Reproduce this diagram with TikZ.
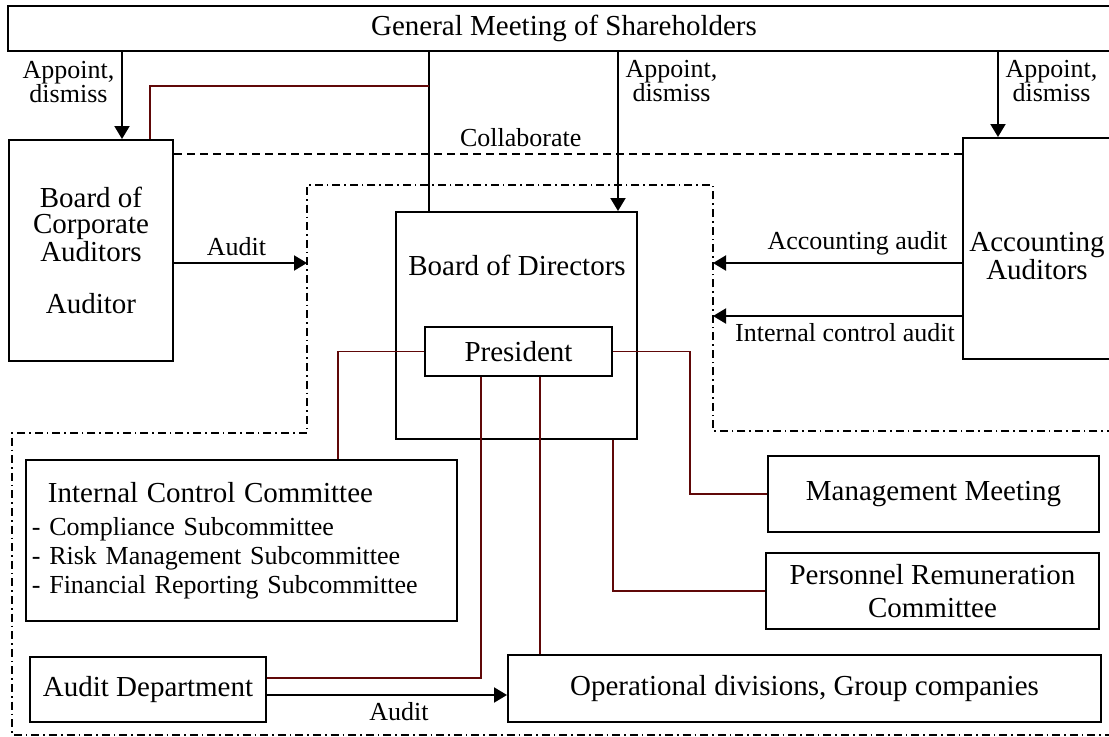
\documentclass[tikz,border=0pt]{standalone}
\usepackage{fontspec}
\setmainfont{Liberation Serif}
\usetikzlibrary{arrows.meta}
\definecolor{linkred}{RGB}{96,8,8}
\newcommand{\boxfont}{\fontsize{14.5}{13}\selectfont}
\newcommand{\tagfont}{\fontsize{13}{12}\selectfont}

\begin{document}
\begin{tikzpicture}[x=0.5pt,y=-0.5pt,
    box/.style={draw=black,line width=1pt,inner sep=2pt,align=center,font=\boxfont},
    tag/.style={font=\tagfont,align=center},
    link/.style={draw=linkred,line width=0.65pt},
    collab/.style={line width=1pt,dash pattern=on 4pt off 2.5pt},
    border/.style={line width=0.6pt,dash pattern=on 4pt off 2pt on 0.8pt off 2pt}]
  \useasboundingbox (0,0) rectangle (1109,736);

    \begin{scope}
      \node[box,minimum width=556pt,minimum height=22.5pt] (gms) at (564,28.5)
           {General Meeting of Shareholders};
      \node[box,minimum width=82pt,minimum height=110.5pt] (bca) at (91,250.5)
           {Board of\\Corporate\\Auditors\\[13pt]Auditor};
      \node[box,minimum width=74pt,minimum height=110.5pt] (acc) at (1037,248.5) {};
      \node[font=\boxfont,align=center] (acctext) at (1037,256) {Accounting\\Auditors};
      \node[box,minimum width=120.5pt,minimum height=113.5pt] (bod) at (516.5,325.5) {};
      \node[font=\boxfont] (bodtext) at (517,265) {Board of Directors};
      \node[box,minimum width=93.5pt,minimum height=24.5pt] (pres) at (518.5,351.5) {President};

      \node[box,minimum width=215.5pt,minimum height=80.5pt,inner xsep=3pt,
            text width=209.5pt,align=left,font=\fontsize{13}{14.5}\selectfont]
           (icc) at (241.5,540.5)
           {\hspace*{8pt}{\boxfont Internal Control Committee}\\[2pt]
            - Compliance Subcommittee\\
            - Risk Management Subcommittee\\
            - Financial Reporting Subcommittee};
      \node[box,minimum width=165.5pt,minimum height=38pt] (mm) at (933.5,494) {Management Meeting};
      \node[box,minimum width=166.5pt,minimum height=38pt,font=\fontsize{14.5}{16.5}\selectfont]
           (prc) at (932.5,591) {Personnel Remuneration\\Committee};
      \node[box,minimum width=118pt,minimum height=32.5pt] (ad) at (148,689.5) {Audit Department};
      \node[box,minimum width=296.5pt,minimum height=33.5pt] (od) at (804.5,688.5)
           {Operational divisions, Group companies};
    \end{scope}

    % dash-dot frame round the executive side
    \draw[border] (1115,431) -- (713,431) -- (713,185) -- (307,185) -- (307,433)
                  -- (12,433) -- (12,735) -- (1115,735);
    \coordinate (bndL) at (307,263);
    \coordinate (bndR1) at (713,263);
    \coordinate (bndR2) at (713,316);
    \coordinate (jn) at (429,86);

    \begin{scope}[>={Triangle[length=6.5pt,width=7.5pt]},
        every edge/.style={draw=black,line width=1pt}]
      \path [->] (gms.south -| 122,0) edge node[tag,left,pos=.34] {Appoint,\\dismiss} (bca.north -| 122,0);
      \path [->] (gms.south -| 618,0) edge node[tag,right,pos=.18] {Appoint,\\dismiss} (bod.north -| 618,0);
      \path [->] (gms.south -| 998,0) edge node[tag,right,pos=.34] {Appoint,\\dismiss} (acc.north -| 998,0);
      \path [->] (bca.east |- bndL) edge node[tag,above,pos=.47] {Audit} (bndL);
      \path [->] (acc.west |- bndR1) edge node[tag,above,pos=.42] {Accounting audit} (bndR1);
      \path [->] (acc.west |- bndR2) edge node[tag,below,pos=.47] {Internal control audit} (bndR2);
      \path [->] (ad.east |- 0,695) edge node[tag,below,pos=.55] {Audit} (od.west |- 0,695);
    \end{scope}

    \draw[line width=1pt] (gms.south -| 429,0) -- (bod.north -| 429,0);
    \path (bca.east |- 0,154) edge[collab] node[tag,above,pos=.44] {Collaborate} (acc.west |- 0,154);

    %\draw[link] (gms.south) -- (bod.north);
    \draw[link] (bca.north -| 150,0) |- (jn);
    \draw[link] (pres.west) -| (icc.north -| 338,0);
    \draw[link] (pres.east) -| (mm.west -| 690,0) -- (mm.west);
    \draw[link] (bod.south -| 613,0) |- (prc.west);
    \draw[link] (pres.south -| 481,0) |- (ad.east |- 0,678);
    \draw[link] (pres.south -| 540,0) -- (od.north -| 540,0);
  \end{tikzpicture}
\end{document}
